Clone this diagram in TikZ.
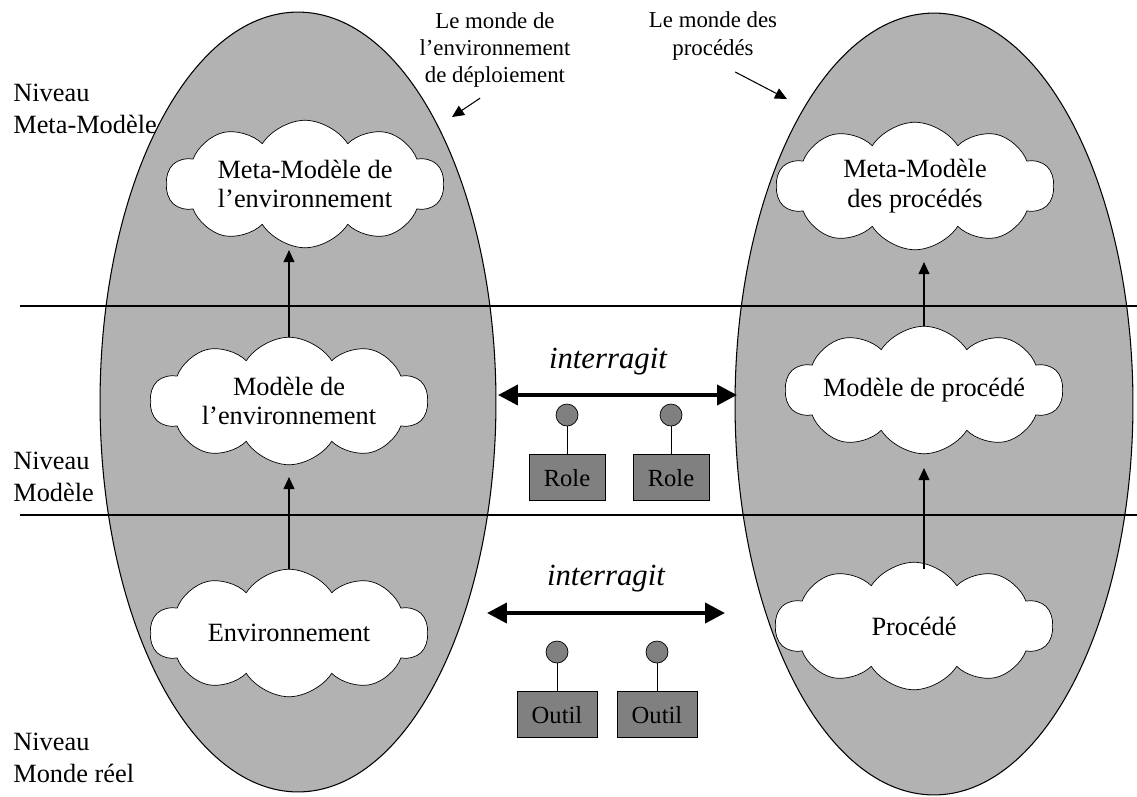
\documentclass[tikz,border=0pt]{standalone}
\usepackage{fontspec}
\setmainfont{Liberation Serif}
\usetikzlibrary{arrows.meta, positioning, shapes.symbols}

\begin{document}
\begin{tikzpicture}[
    x=0.02cm, y=-0.02cm,
    world/.style={draw, fill=gray!60, line width=0.6pt},
    cloudnode/.style={cloud, draw, fill=white, cloud puffs=10, cloud puff arc=115,
      cloud ignores aspect, minimum width=5.55cm, minimum height=2.55cm,
      inner sep=0pt, align=center, font=\fontsize{15}{17}\selectfont},
    level/.style={anchor=west, align=left, inner sep=0pt, font=\fontsize{15}{18}\selectfont},
    worldlabel/.style={align=center, inner sep=0pt, font=\fontsize{13}{15.6}\selectfont},
    actor/.style={draw, fill=gray, minimum width=1.52cm, minimum height=0.92cm,
      inner sep=0pt, font=\fontsize{14}{16}\selectfont},
    dot/.style={circle, draw, fill=gray, minimum size=0.44cm, inner sep=0pt},
    link/.style={-{Triangle[length=0.24cm, width=0.22cm]}, line width=0.6pt},
    talk/.style={{Triangle[length=0.4cm, width=0.4cm]}-{Triangle[length=0.4cm, width=0.4cm]},
      line width=0.08cm},
    verb/.style={font=\fontsize{17.5}{20}\selectfont\itshape, anchor=base, inner sep=0pt}
  ]
  \useasboundingbox (0,0) rectangle (1137,796);

  % --- the two worlds ---
  \draw[world] (298,402) ellipse [x radius=3.96cm, y radius=7.8cm];
  \draw[world] (934,404) ellipse [x radius=3.98cm, y radius=7.82cm];

  % --- level separators ---
  \draw[line width=0.7pt] (20,306) -- (1137,306);
  \draw[line width=0.7pt] (20,515) -- (1137,515);

  \node[level] (lvlmeta) at (13,109) {Niveau\\Meta-Modèle};
  \node[level] (lvlmod) at (13,477) {Niveau\\Modèle};
  \node[level] (lvlreal) at (13,758) {Niveau\\Monde réel};

  % --- environment side ---
  \node[cloudnode] (metaenv) at (305,184) {Meta-Modèle de\\l'environnement};
  \node[cloudnode] (modenv) at (289,401) {Modèle de\\l'environnement};
  \node[cloudnode] (env) at (289,633) {Environnement};
  \draw[link, shorten >=0.04cm] (modenv.north) -- (modenv.north |- metaenv.south);
  \draw[link, shorten >=0.24cm] (env.north) -- (modenv.south);

  % --- process side ---
  \node[cloudnode] (metaproc) at (915,186) {Meta-Modèle\\des procédés};
  \node[cloudnode] (modproc) at (924,390) {Modèle de procédé};
  \node[cloudnode] (proc) at (914,626) {Procédé};
  \draw[link, shorten >=0.24cm] (modproc.north) -- (modproc.north |- metaproc.south);
  \draw[link, shorten >=0.28cm, shorten <=-0.15cm] (proc.north -| modproc.south) -- (modproc.south);

  % --- world titles ---
  \node[worldlabel] (envtitle) at (495,50) {Le monde de\\l'environnement\\de déploiement};
  \node[worldlabel] (proctitle) at (713,36) {Le monde des\\procédés};
  \coordinate (envtip) at (452,117);
  \coordinate (proctip) at (787,99);
  \draw[link, shorten <=0.36cm] (envtitle.south) -- (envtip);
  \draw[link, shorten <=0.5cm] (proctitle.south) -- (proctip);

  % --- interactions: roles ---
  \coordinate (rolel) at (498,395);
  \coordinate (roler) at (737,395);
  \draw[talk] (rolel) -- (roler) node[verb, pos=0.46, yshift=0.54cm] (talkrole) {interragit};
  \foreach \x [count=\i] in {567,671} {
    \node[dot] (rdot\i) at (\x,415) {};
    \node[actor, below=0.56cm of rdot\i] (role\i) {Role};
    \draw (rdot\i) -- (role\i);
  }

  % --- interactions: tools ---
  \coordinate (tooll) at (487,613);
  \coordinate (toolr) at (725,613);
  \draw[talk] (tooll) -- (toolr) node[verb, midway, yshift=0.56cm] (talktool) {interragit};
  \foreach \x [count=\i] in {557,657} {
    \node[dot] (tdot\i) at (\x,652) {};
    \node[actor, minimum width=1.6cm, below=0.56cm of tdot\i] (tool\i) {Outil};
    \draw (tdot\i) -- (tool\i);
  }

\end{tikzpicture}
\end{document}
